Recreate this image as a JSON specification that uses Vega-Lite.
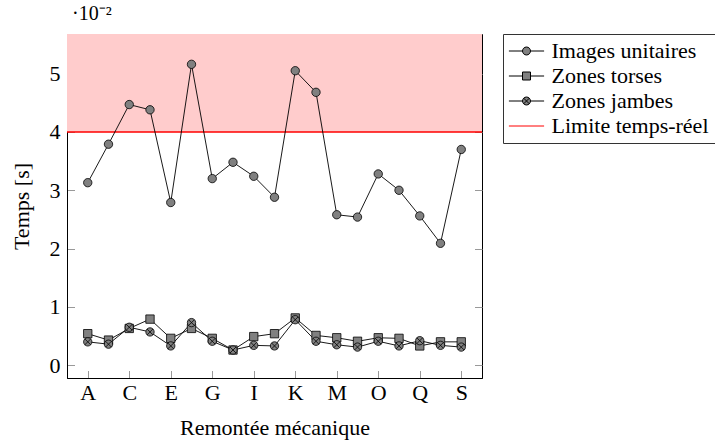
{
  "$schema": "https://vega.github.io/schema/vega-lite/v6.json",
  "width": 415,
  "height": 344,
  "autosize": {"type": "none"},
  "padding": {"left": 67, "top": 34, "right": 233, "bottom": 63},
  "background": "white",
  "title": {
    "text": "·10⁻²",
    "anchor": "start",
    "frame": "group",
    "font": "Liberation Serif",
    "fontSize": 20,
    "fontWeight": "normal",
    "color": "black",
    "dx": 5,
    "offset": 10
  },
  "config": {
    "font": "Liberation Serif",
    "view": {"stroke": "black", "strokeWidth": 1},
    "axis": {
      "labelFont": "Liberation Serif",
      "titleFont": "Liberation Serif",
      "labelFontSize": 22,
      "titleFontSize": 22,
      "labelColor": "black",
      "titleColor": "black",
      "titleFontWeight": "normal",
      "domainColor": "black",
      "domainWidth": 1,
      "tickColor": "#999999",
      "tickSize": -7.5,
      "tickWidth": 1,
      "grid": false
    },
    "legend": {
      "orient": "right",
      "offset": 20,
      "labelFont": "Liberation Serif",
      "labelFontSize": 22,
      "labelLimit": 250,
      "labelColor": "black",
      "strokeColor": "#333333",
      "fillColor": "white",
      "padding": 6,
      "rowPadding": 3,
      "symbolSize": 64,
      "symbolOffset": 6.5,
      "labelOffset": 14,
      "symbolOpacity": 1,
      "symbolStrokeWidth": 1
    }
  },
  "datasets": {
    "table": [
      {"cat": "A", "series": "Images unitaires", "value": 3.13},
      {"cat": "B", "series": "Images unitaires", "value": 3.79},
      {"cat": "C", "series": "Images unitaires", "value": 4.47},
      {"cat": "D", "series": "Images unitaires", "value": 4.38},
      {"cat": "E", "series": "Images unitaires", "value": 2.79},
      {"cat": "F", "series": "Images unitaires", "value": 5.16},
      {"cat": "G", "series": "Images unitaires", "value": 3.20},
      {"cat": "H", "series": "Images unitaires", "value": 3.48},
      {"cat": "I", "series": "Images unitaires", "value": 3.24},
      {"cat": "J", "series": "Images unitaires", "value": 2.88},
      {"cat": "K", "series": "Images unitaires", "value": 5.05},
      {"cat": "L", "series": "Images unitaires", "value": 4.68},
      {"cat": "M", "series": "Images unitaires", "value": 2.58},
      {"cat": "N", "series": "Images unitaires", "value": 2.54},
      {"cat": "O", "series": "Images unitaires", "value": 3.28},
      {"cat": "P", "series": "Images unitaires", "value": 3.00},
      {"cat": "Q", "series": "Images unitaires", "value": 2.56},
      {"cat": "R", "series": "Images unitaires", "value": 2.09},
      {"cat": "S", "series": "Images unitaires", "value": 3.70},
      {"cat": "A", "series": "Zones torses", "value": 0.54},
      {"cat": "B", "series": "Zones torses", "value": 0.43},
      {"cat": "C", "series": "Zones torses", "value": 0.63},
      {"cat": "D", "series": "Zones torses", "value": 0.79},
      {"cat": "E", "series": "Zones torses", "value": 0.46},
      {"cat": "F", "series": "Zones torses", "value": 0.63},
      {"cat": "G", "series": "Zones torses", "value": 0.46},
      {"cat": "H", "series": "Zones torses", "value": 0.26},
      {"cat": "I", "series": "Zones torses", "value": 0.49},
      {"cat": "J", "series": "Zones torses", "value": 0.54},
      {"cat": "K", "series": "Zones torses", "value": 0.81},
      {"cat": "L", "series": "Zones torses", "value": 0.51},
      {"cat": "M", "series": "Zones torses", "value": 0.47},
      {"cat": "N", "series": "Zones torses", "value": 0.41},
      {"cat": "O", "series": "Zones torses", "value": 0.47},
      {"cat": "P", "series": "Zones torses", "value": 0.46},
      {"cat": "Q", "series": "Zones torses", "value": 0.33},
      {"cat": "R", "series": "Zones torses", "value": 0.40},
      {"cat": "S", "series": "Zones torses", "value": 0.40},
      {"cat": "A", "series": "Zones jambes", "value": 0.40},
      {"cat": "B", "series": "Zones jambes", "value": 0.36},
      {"cat": "C", "series": "Zones jambes", "value": 0.65},
      {"cat": "D", "series": "Zones jambes", "value": 0.57},
      {"cat": "E", "series": "Zones jambes", "value": 0.33},
      {"cat": "F", "series": "Zones jambes", "value": 0.73},
      {"cat": "G", "series": "Zones jambes", "value": 0.41},
      {"cat": "H", "series": "Zones jambes", "value": 0.26},
      {"cat": "I", "series": "Zones jambes", "value": 0.34},
      {"cat": "J", "series": "Zones jambes", "value": 0.33},
      {"cat": "K", "series": "Zones jambes", "value": 0.78},
      {"cat": "L", "series": "Zones jambes", "value": 0.41},
      {"cat": "M", "series": "Zones jambes", "value": 0.35},
      {"cat": "N", "series": "Zones jambes", "value": 0.31},
      {"cat": "O", "series": "Zones jambes", "value": 0.41},
      {"cat": "P", "series": "Zones jambes", "value": 0.33},
      {"cat": "Q", "series": "Zones jambes", "value": 0.42},
      {"cat": "R", "series": "Zones jambes", "value": 0.34},
      {"cat": "S", "series": "Zones jambes", "value": 0.31}
    ]
  },
  "layer": [
    {
      "data": {"values": [{"limit": 4, "top": 5.68}]},
      "mark": {"type": "rect", "color": "#ffcccc"},
      "encoding": {
        "y": {
          "field": "limit",
          "type": "quantitative",
          "scale": {"domain": [-0.22, 5.68], "nice": false, "zero": false},
          "axis": {
            "orient": "right",
            "labels": false,
            "title": null,
            "domain": false,
            "values": [0, 1, 2, 3, 4, 5]
          }
        },
        "y2": {"field": "top"}
      }
    },
    {
      "data": {"values": [{"limit": 4}]},
      "mark": {"type": "rule", "color": "#ff0000", "strokeWidth": 1.6},
      "encoding": {
        "y": {"field": "limit", "type": "quantitative", "axis": null}
      }
    },
    {
      "data": {"name": "table"},
      "mark": {"type": "line", "color": "black", "strokeWidth": 0.9},
      "encoding": {
        "x": {
          "field": "cat",
          "type": "nominal",
          "scale": {"type": "point", "padding": 1, "domain": ["A","B","C","D","E","F","G","H","I","J","K","L","M","N","O","P","Q","R","S"]},
          "axis": {
            "title": "Remontée mécanique",
            "values": ["A","C","E","G","I","K","M","O","Q","S"],
            "labelAngle": 0,
            "labelPadding": 11.5,
            "titlePadding": 14
          }
        },
        "y": {
          "field": "value",
          "type": "quantitative",
          "scale": {"domain": [-0.22, 5.68], "nice": false, "zero": false},
          "axis": {
            "title": "Temps [s]",
            "values": [0, 1, 2, 3, 4, 5],
            "format": "d",
            "labelPadding": 14.5,
            "titlePadding": 16
          }
        },
        "detail": {"field": "series"}
      }
    },
    {
      "data": {"name": "table"},
      "transform": [{"filter": "datum.series === 'Images unitaires'"}],
      "mark": {"type": "point", "shape": "circle", "filled": true, "fill": "#808080", "stroke": "black", "strokeWidth": 0.8, "size": 70, "opacity": 1},
      "encoding": {
        "x": {"field": "cat", "type": "nominal"},
        "y": {"field": "value", "type": "quantitative", "axis": null}
      }
    },
    {
      "data": {"name": "table"},
      "transform": [{"filter": "datum.series === 'Zones torses'"}],
      "mark": {"type": "point", "shape": "square", "filled": true, "fill": "#808080", "stroke": "black", "strokeWidth": 0.8, "size": 70, "opacity": 1},
      "encoding": {
        "x": {"field": "cat", "type": "nominal"},
        "y": {"field": "value", "type": "quantitative", "axis": null}
      }
    },
    {
      "data": {"name": "table"},
      "transform": [{"filter": "datum.series === 'Zones jambes'"}],
      "mark": {"type": "point", "shape": "M-1,0A1,1,0,1,1,1,0A1,1,0,1,1,-1,0ZM-0.707,-0.707L0.707,0.707M-0.707,0.707L0.707,-0.707", "filled": true, "fill": "#808080", "stroke": "black", "strokeWidth": 0.8, "size": 70, "opacity": 1},
      "encoding": {
        "x": {"field": "cat", "type": "nominal"},
        "y": {"field": "value", "type": "quantitative", "axis": null}
      }
    },
    {
      "data": {"name": "table"},
      "mark": {"type": "point", "filled": true, "fill": "#808080", "opacity": 0},
      "encoding": {
        "shape": {
          "field": "series",
          "type": "nominal",
          "scale": {
            "domain": ["Images unitaires", "Zones torses", "Zones jambes", "Limite temps-réel"],
            "range": [
              "M-4.4,0L-1,0M1,0L4.4,0M-1,0A1,1,0,1,1,1,0A1,1,0,1,1,-1,0Z",
              "M-4.4,0L-1,0M1,0L4.4,0M-1,-1L1,-1L1,1L-1,1Z",
              "M-4.4,0L-1,0M1,0L4.4,0M-1,0A1,1,0,1,1,1,0A1,1,0,1,1,-1,0ZM-0.707,-0.707L0.707,0.707M-0.707,0.707L0.707,-0.707",
              "M-4.4,0L4.4,0"
            ]
          },
          "legend": {"title": null}
        },
        "stroke": {
          "field": "series",
          "type": "nominal",
          "scale": {
            "domain": ["Images unitaires", "Zones torses", "Zones jambes", "Limite temps-réel"],
            "range": ["black", "black", "black", "#ff0000"]
          },
          "legend": {"title": null}
        }
      }
    }
  ],
  "resolve": {"axis": {"y": "independent"}}
}
